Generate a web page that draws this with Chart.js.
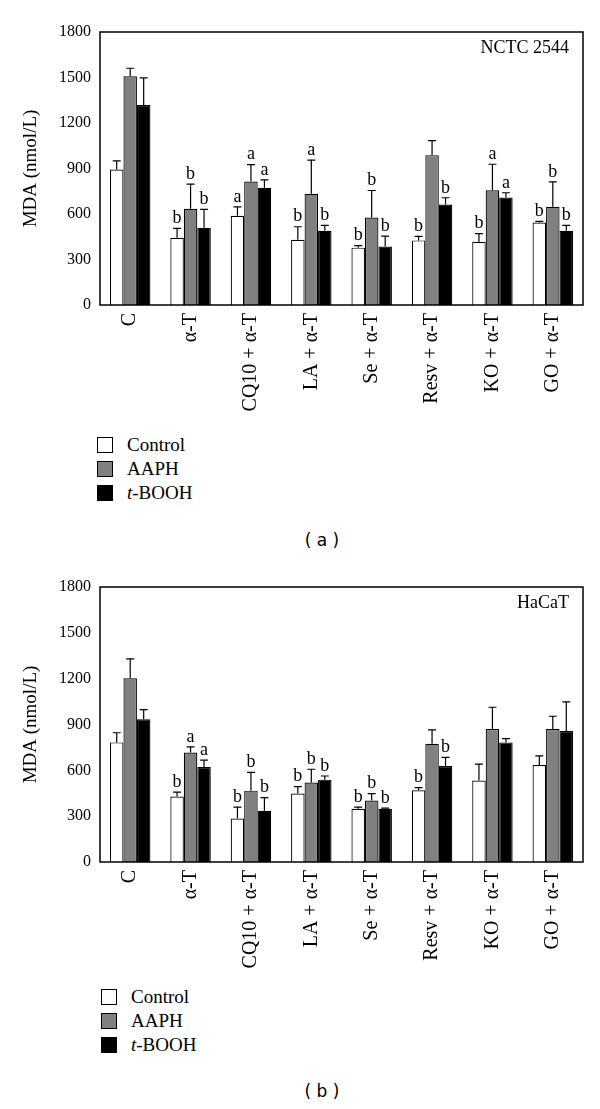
<!DOCTYPE html>
<html>
<head>
<meta charset="utf-8">
<script src="https://cdn.jsdelivr.net/npm/chart.js@4/dist/chart.umd.min.js"></script>
<style>
  body { margin: 0; background: #fff; width: 600px; height: 1109px; position: relative; overflow: hidden; }
  .panel { position: absolute; left: 0; width: 600px; height: 420px; }
  .legend { position: absolute; font-family: "Liberation Serif", "Times New Roman", serif; font-size: 19px; color: #000; }
  .legend .row { display: flex; align-items: center; height: 24px; }
  .legend .sw { width: 14px; height: 14px; border: 1px solid #000; margin-right: 14px; }
  .cap { position: absolute; width: 600px; text-align: center; left: 22px; font-family: "DejaVu Sans", sans-serif; font-size: 17px; }
</style>
</head>
<body>
<div class="panel" style="top:0"><canvas id="chartA" width="600" height="420"></canvas></div>
<div class="legend" style="left:97px;top:433px">
  <div class="row"><span class="sw" style="background:#fff"></span>Control</div>
  <div class="row"><span class="sw" style="background:#808080"></span>AAPH</div>
  <div class="row"><span class="sw" style="background:#000"></span><i>t</i>-BOOH</div>
</div>
<div class="cap" style="top:530px">( a )</div>

<div class="panel" style="top:555px"><canvas id="chartB" width="600" height="420"></canvas></div>
<div class="legend" style="left:101px;top:985px">
  <div class="row"><span class="sw" style="background:#fff"></span>Control</div>
  <div class="row"><span class="sw" style="background:#808080"></span>AAPH</div>
  <div class="row"><span class="sw" style="background:#000"></span><i>t</i>-BOOH</div>
</div>
<div class="cap" style="top:1081px">( b )</div>

<script>
// categories shared by both panels
var categories = ['C', 'α-T', 'CQ10 + α-T', 'LA + α-T', 'Se + α-T', 'Resv + α-T', 'KO + α-T', 'GO + α-T'];
var seriesNames = ['Control', 'AAPH', 't-BOOH'];
var seriesColors = ['#ffffff', '#808080', '#000000'];

// (a) NCTC 2544 -- MDA (nmol/L), SD, significance letters
var ncControl = [893, 443, 588, 430, 378, 426, 417, 544];
var ncControlSd = [57, 62, 59, 86, 13, 26, 53, 7];
var ncAaph = [1508, 634, 814, 733, 577, 988, 757, 648];
var ncAaphSd = [53, 163, 112, 222, 178, 96, 171, 164];
var ncTbooh = [1319, 509, 773, 489, 386, 663, 709, 489];
var ncTboohSd = [178, 121, 52, 36, 68, 44, 31, 36];
var ncControlSig = ['', 'b', 'a', 'b', 'b', 'b', 'b', 'b'];
var ncAaphSig = ['', 'b', 'a', 'a', 'b', '', 'a', 'b'];
var ncTboohSig = ['', 'b', 'a', 'b', 'b', 'b', 'a', 'b'];

// (b) HaCaT
var hcControl = [783, 428, 285, 448, 348, 470, 533, 635];
var hcControlSd = [63, 29, 74, 46, 11, 17, 108, 59];
var hcAaph = [1202, 717, 467, 520, 402, 774, 870, 870];
var hcAaphSd = [128, 37, 120, 87, 46, 91, 143, 84];
var hcTbooh = [935, 622, 335, 539, 348, 628, 783, 857];
var hcTboohSd = [63, 45, 87, 24, 4, 57, 24, 191];
var hcControlSig = ['', 'b', 'b', 'b', 'b', 'b', '', ''];
var hcAaphSig = ['', 'a', 'b', 'b', 'b', '', '', ''];
var hcTboohSig = ['', 'a', 'b', 'b', 'b', 'b', '', ''];

var serif = 'Liberation Serif';

// error bars (upper half only), letters, frame and panel name
var extras = {
  id: 'extras',
  afterDatasetsDraw: function (chart, args, opts) {
    var ctx = chart.ctx;
    var y = chart.scales.y;
    var area = chart.chartArea;
    ctx.save();
    chart.data.datasets.forEach(function (ds, i) {
      var meta = chart.getDatasetMeta(i);
      meta.data.forEach(function (bar, j) {
        var top = y.getPixelForValue(ds.data[j] + ds.sd[j]);
        ctx.strokeStyle = '#000';
        ctx.lineWidth = 1.2;
        ctx.beginPath();
        ctx.moveTo(bar.x, bar.y);
        ctx.lineTo(bar.x, top);
        ctx.moveTo(bar.x - 4, top);
        ctx.lineTo(bar.x + 4, top);
        ctx.stroke();
        if (ds.sig[j]) {
          ctx.fillStyle = '#000';
          ctx.font = '18px "' + serif + '"';
          ctx.textAlign = 'center';
          ctx.textBaseline = 'bottom';
          ctx.fillText(ds.sig[j], bar.x, top - 1);
        }
      });
    });
    ctx.strokeStyle = '#000';
    ctx.lineWidth = 1.5;
    ctx.strokeRect(area.left, area.top, area.right - area.left, area.bottom - area.top);
    ctx.fillStyle = '#000';
    ctx.font = '18px "' + serif + '"';
    ctx.textAlign = 'right';
    ctx.textBaseline = 'middle';
    ctx.fillText(opts.name, area.right - 14, area.top + 16);
    ctx.restore();
  }
};

function makeChart(id, name, vals, sds, sigs, plotBottom) {
  var datasets = seriesNames.map(function (s, i) {
    return {
      label: s,
      data: vals[i],
      sd: sds[i],
      sig: sigs[i],
      backgroundColor: seriesColors[i],
      borderColor: '#000',
      borderWidth: 1.2
    };
  });
  return new Chart(document.getElementById(id), {
    type: 'bar',
    data: { labels: categories, datasets: datasets },
    options: {
      responsive: false,
      animation: false,
      categoryPercentage: 0.67,
      barPercentage: 1.0,
      layout: { padding: { top: 32, right: 17, left: 0, bottom: 0 } },
      plugins: { legend: { display: false }, tooltip: { enabled: false }, extras: { name: name } },
      scales: {
        x: {
          grid: { display: false, drawTicks: false },
          border: { display: false },
          ticks: { autoSkip: false, maxRotation: 90, minRotation: 90, padding: 8, color: '#000', font: { family: serif, size: 20 } },
          afterFit: function (s) { s.height = 420 - plotBottom; }
        },
        y: {
          min: 0,
          max: 1800,
          ticks: { stepSize: 300, padding: 9, color: '#000', font: { family: serif, size: 16 },
            callback: function (v) { return String(v); } },
          grid: { display: false, drawTicks: false },
          border: { display: false },
          title: { display: true, text: 'MDA (nmol/L)', color: '#000', font: { family: serif, size: 19 }, padding: { top: 20, bottom: 0 } },
          afterFit: function (s) { s.width = 100; }
        }
      }
    },
    plugins: [extras]
  });
}

makeChart('chartA', 'NCTC 2544',
  [ncControl, ncAaph, ncTbooh], [ncControlSd, ncAaphSd, ncTboohSd], [ncControlSig, ncAaphSig, ncTboohSig], 305);
makeChart('chartB', 'HaCaT',
  [hcControl, hcAaph, hcTbooh], [hcControlSd, hcAaphSd, hcTboohSd], [hcControlSig, hcAaphSig, hcTboohSig], 307);
</script>
</body>
</html>
